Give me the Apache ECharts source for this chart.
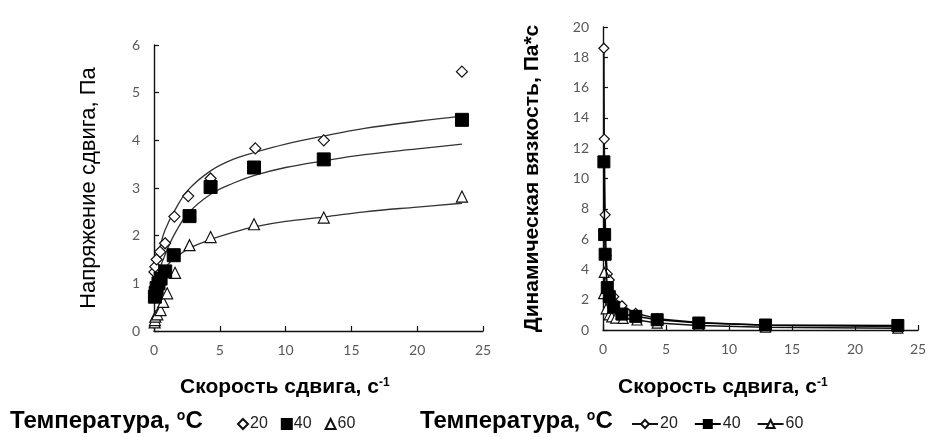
<!DOCTYPE html>
<html>
<head>
<meta charset="utf-8">
<script src="https://cdn.jsdelivr.net/npm/echarts@6/dist/echarts.min.js"></script>
<style>
  html, body { margin: 0; padding: 0; background: #fff; }
  #chart { width: 930px; height: 437px; }
</style>
</head>
<body>
<div id="chart"></div>
<script>
// Shear stress (Pa) measured at each shear rate (1/s), per temperature
const rate20 = [0.03, 0.1, 0.2, 0.46, 0.84, 1.55, 2.6, 4.3, 7.7, 12.9, 23.4];
const stress20 = [1.24, 1.35, 1.5, 1.66, 1.84, 2.4, 2.83, 3.2, 3.83, 4.0, 5.44];
const rate40 = [0.07, 0.13, 0.2, 0.34, 0.5, 0.85, 1.5, 2.7, 4.3, 7.6, 12.9, 23.4];
const stress40 = [0.72, 0.8, 0.9, 1.0, 1.1, 1.25, 1.59, 2.41, 3.02, 3.43, 3.6, 4.43];
const rate60 = [0.05, 0.07, 0.1, 0.25, 0.5, 0.7, 1.0, 1.6, 2.7, 4.3, 7.6, 12.9, 23.4];
const stress60 = [0.18, 0.23, 0.3, 0.35, 0.44, 0.61, 0.79, 1.22, 1.8, 1.97, 2.24, 2.38, 2.82];

// Trend curves through the stress data
const fitRate20 = [0.2, 0.46, 0.84, 1.6, 2.6, 4.3, 6, 7.7, 10, 12.9, 16, 20, 23.4];
const fit20 = [1.42, 1.77, 2.12, 2.54, 2.96, 3.36, 3.6, 3.75, 3.92, 4.09, 4.25, 4.4, 4.51];
const fitRate40 = [0.2, 0.33, 0.7, 1.5, 2.6, 4.3, 6, 7.7, 10, 12.9, 16, 20, 23.4];
const fit40 = [1.0, 1.22, 1.5, 2.0, 2.47, 2.87, 3.1, 3.27, 3.43, 3.57, 3.7, 3.82, 3.92];
const fitRate60 = [1.0, 1.6, 2.7, 4.3, 6, 7.7, 10, 12.9, 16, 20, 23.4];
const fit60 = [1.38, 1.53, 1.74, 1.92, 2.07, 2.19, 2.3, 2.39, 2.5, 2.6, 2.68];

// Dynamic viscosity (Pa*s) vs shear rate
const vRate20 = [0.07, 0.1, 0.17, 0.25, 0.34, 0.5, 0.85, 1.5, 2.6, 4.3, 7.6, 12.9, 23.4];
const visc20 = [18.6, 12.6, 7.6, 4.9, 3.7, 3.3, 2.2, 1.6, 1.1, 0.75, 0.5, 0.31, 0.23];
const vRate40 = [0.07, 0.13, 0.17, 0.34, 0.5, 0.85, 1.5, 2.6, 4.3, 7.6, 12.9, 23.4];
const visc40 = [11.1, 6.3, 5.0, 2.8, 2.2, 1.5, 1.05, 0.9, 0.68, 0.46, 0.33, 0.3];
const vRate60 = [0.05, 0.1, 0.25, 0.5, 0.7, 1.0, 1.6, 2.7, 4.3, 7.6, 12.9, 23.4];
const visc60 = [2.4, 3.8, 1.4, 1.0, 0.87, 0.79, 0.77, 0.66, 0.46, 0.3, 0.18, 0.12];

// Tick values
const stressTicks = [0, 1, 2, 3, 4, 5, 6];
const viscTicks = [0, 2, 4, 6, 8, 10, 12, 14, 16, 18, 20];
const rateTicks = [0, 5, 10, 15, 20, 25];

const zip = (xs, ys) => xs.map((x, i) => [x, ys[i]]);

const TICK_FONT = { color: '#595959', fontSize: 14, fontFamily: 'Lato' };
const AXIS_LINE = { lineStyle: { color: '#111', width: 1.4 } };
const AXIS_TICK = { inside: true, length: 5, lineStyle: { color: '#111', width: 1.2 } };

function valueAxis(ticks, gridIndex, extra) {
  return Object.assign({
    type: 'value',
    gridIndex: gridIndex,
    min: ticks[0],
    max: ticks[ticks.length - 1],
    interval: ticks[1] - ticks[0],
    axisLine: Object.assign({ show: true, onZero: false }, AXIS_LINE),
    axisTick: AXIS_TICK,
    splitLine: { show: false },
    axisLabel: Object.assign({ margin: 14 }, TICK_FONT)
  }, extra || {});
}

const chart = echarts.init(document.getElementById('chart'), null, { renderer: 'canvas' });

const openMark = { color: '#fff', borderColor: '#111', borderWidth: 1.2, opacity: 1 };
const fillMark = { color: '#000', borderColor: '#000', borderWidth: 1, opacity: 1 };

const titleRich = {
  b: { fontFamily: 'Liberation Sans', fontWeight: 'bold', fontSize: 21, fill: '#000', color: '#000' },
  s: { fontFamily: 'Liberation Sans', fontWeight: 'bold', fontSize: 12, fill: '#000', color: '#000', verticalAlign: 'top' },
  L: { fontFamily: 'Liberation Sans', fontWeight: 'bold', fontSize: 24, fill: '#000', color: '#000' },
  ls: { fontFamily: 'Liberation Sans', fontWeight: 'bold', fontSize: 14, fill: '#000', color: '#000', verticalAlign: 'top' }
};

const legendText = { fontFamily: 'Liberation Sans', fontSize: 16, color: '#222', padding: [0, 0, 0, -3] };

chart.setOption({
  animation: false,
  grid: [
    { left: 154, top: 45, width: 329, height: 286 },
    { left: 603, top: 27, width: 315, height: 303 }
  ],
  xAxis: [
    valueAxis(rateTicks, 0, { axisLabel: Object.assign({ margin: 12 }, TICK_FONT) }),
    valueAxis(rateTicks, 1, { axisLabel: Object.assign({ margin: 12 }, TICK_FONT) })
  ],
  yAxis: [
    valueAxis(stressTicks, 0, {
      name: 'Напряжение сдвига, Па',
      nameLocation: 'middle',
      nameGap: 54,
      nameTextStyle: { fontFamily: 'Liberation Sans', fontSize: 22, color: '#000' }
    }),
    valueAxis(viscTicks, 1, {
      name: 'Динамическая вязкость, Па*с',
      nameLocation: 'middle',
      nameGap: 60,
      nameTextStyle: { fontFamily: 'Liberation Sans', fontSize: 21, fontWeight: 'bold', color: '#000' }
    })
  ],
  legend: [
    {
      data: ['a20', 'a40', 'a60'],
      left: 232, top: 411,
      itemWidth: 10, itemHeight: 10, itemGap: 13,
      formatter: n => n.slice(1),
      textStyle: legendText,
      selectedMode: false
    },
    {
      data: ['b20', 'b40', 'b60'],
      left: 626, top: 411,
      itemWidth: 26, itemHeight: 10, itemGap: 16,
      formatter: n => n.slice(1),
      textStyle: legendText,
      selectedMode: false
    }
  ],
  graphic: [
    {
      type: 'text', left: 180, top: 377,
      style: { text: '{b|Скорость сдвига, с}{s|-1}', rich: titleRich }
    },
    {
      type: 'text', left: 618, top: 377,
      style: { text: '{b|Скорость сдвига, с}{s|-1}', rich: titleRich }
    },
    {
      type: 'text', left: 10, top: 409,
      style: { text: '{L|Температура, }{ls|o}{L|C}', rich: titleRich }
    },
    {
      type: 'text', left: 420, top: 409,
      style: { text: '{L|Температура, }{ls|o}{L|C}', rich: titleRich }
    }
  ],
  series: [
    // trend curves
    { type: 'line', xAxisIndex: 0, yAxisIndex: 0, data: zip(fitRate20, fit20), smooth: 0.4, showSymbol: false, lineStyle: { color: '#333', width: 1.3 }, z: 2, silent: true },
    { type: 'line', xAxisIndex: 0, yAxisIndex: 0, data: zip(fitRate40, fit40), smooth: 0.4, showSymbol: false, lineStyle: { color: '#333', width: 1.3 }, z: 2, silent: true },
    { type: 'line', xAxisIndex: 0, yAxisIndex: 0, data: zip(fitRate60, fit60), smooth: 0.4, showSymbol: false, lineStyle: { color: '#333', width: 1.3 }, z: 2, silent: true },
    // measured stress
    { name: 'a20', type: 'scatter', xAxisIndex: 0, yAxisIndex: 0, data: zip(rate20, stress20), symbol: 'diamond', symbolSize: 11, itemStyle: openMark, z: 3 },
    { name: 'a40', type: 'scatter', xAxisIndex: 0, yAxisIndex: 0, data: zip(rate40, stress40), symbol: 'rect', symbolSize: 13, itemStyle: fillMark, z: 4 },
    { name: 'a60', type: 'scatter', xAxisIndex: 0, yAxisIndex: 0, data: zip(rate60, stress60), symbol: 'triangle', symbolSize: 11, itemStyle: openMark, z: 3 },
    // viscosity
    { name: 'b20', type: 'line', xAxisIndex: 1, yAxisIndex: 1, data: zip(vRate20, visc20), symbol: 'diamond', symbolSize: 10, showAllSymbol: true, itemStyle: openMark, lineStyle: { color: '#111', width: 1.5 }, z: 3 },
    { name: 'b40', type: 'line', xAxisIndex: 1, yAxisIndex: 1, data: zip(vRate40, visc40), symbol: 'rect', symbolSize: 12, showAllSymbol: true, itemStyle: fillMark, lineStyle: { color: '#000', width: 1.5 }, z: 4 },
    { name: 'b60', type: 'line', xAxisIndex: 1, yAxisIndex: 1, data: zip(vRate60, visc60), symbol: 'triangle', symbolSize: 10, showAllSymbol: true, itemStyle: openMark, lineStyle: { color: '#111', width: 1.5 }, z: 3 }
  ]
});
</script>
</body>
</html>
